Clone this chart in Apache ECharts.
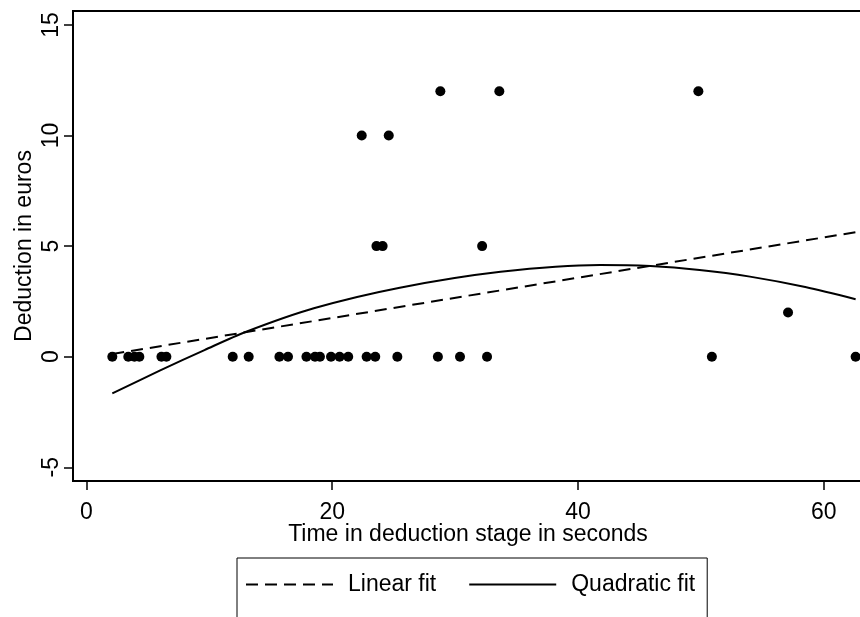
<!DOCTYPE html>
<html>
<head>
<meta charset="utf-8">
<script src="https://cdn.jsdelivr.net/npm/echarts@6/dist/echarts.min.js"></script>
<style>
    html, body { margin: 0; padding: 0; background: #fff; }
    #chart { width: 860px; height: 617px; }
</style>
</head>
<body>
<div id="chart"></div>
<script>
// observed points: time in seconds / deduction in euros
const timeSec = [
    2.1, 3.4, 3.9, 4.3, 6.1, 6.5, 11.9, 13.2, 15.7, 16.4,
    17.9, 18.6, 19.0, 19.9, 20.6, 21.3, 22.8, 23.5, 25.3,
    28.6, 30.4, 32.6, 50.9, 62.6,
    22.4, 24.6, 23.6, 24.1, 32.2, 28.8, 33.6, 49.8, 57.1,
]
const deduction = [
    0, 0, 0, 0, 0, 0, 0, 0, 0, 0,
    0, 0, 0, 0, 0, 0, 0, 0, 0,
    0, 0, 0, 0, 0,
    10, 10, 5, 5, 5, 12, 12, 12, 2,
]

// fitted lines
const linearX = [2.1, 62.6]
const linearY = [0.12, 5.63]
const quadX = [2.1, 6, 9.6, 13.0, 18.5, 25.5, 33.7, 41.8, 45.9, 49.9, 54.0, 58.5, 62.6]
const quadY = [-1.66, -0.62, 0.30, 1.13, 2.19, 3.12, 3.84, 4.15, 4.10, 3.92, 3.62, 3.15, 2.60]

const xTicks = [0, 20, 40, 60]
const yTicks = [-5, 0, 5, 10, 15]

const pairs = (xs, ys) => xs.map((x, i) => [x, ys[i]])

const font = '"Liberation Sans", Arial, sans-serif'
const chart = echarts.init(document.getElementById('chart'))

chart.setOption({
    animation: false,
    backgroundColor: '#fff',
    grid: {
        left: 73,
        top: 11,
        right: -3,
        bottom: 136,
        outerBoundsMode: 'none',
        containLabel: false,
        show: true,
        borderColor: '#000',
        borderWidth: 2,
        backgroundColor: 'transparent',
    },
    legend: {
        data: ['Linear fit', 'Quadratic fit'],
        left: 237,
        top: 558,
        orient: 'horizontal',
        itemWidth: 87,
        itemHeight: 14,
        itemGap: 32,
        padding: [15, 12, 40, 8],
        borderColor: '#000',
        borderWidth: 1,
        itemStyle: { color: 'transparent', borderWidth: 0 },
        textStyle: {
            fontFamily: font,
            fontSize: 23,
            color: '#000',
            padding: [0, 0, 0, 10],
        },
    },
    xAxis: {
        type: 'value',
        min: -1.1,
        max: 63.2,
        name: 'Time in deduction stage in seconds',
        nameLocation: 'middle',
        nameGap: 42,
        nameMoveOverlap: false,
        nameTextStyle: { fontFamily: font, fontSize: 23, color: '#000' },
        axisLine: { show: true, onZero: false, lineStyle: { color: '#000', width: 2 } },
        axisTick: { show: true, length: 9, customValues: xTicks, lineStyle: { color: '#000', width: 1.5 } },
        axisLabel: { customValues: xTicks, fontFamily: font, fontSize: 23, color: '#000', margin: 20 },
        splitLine: { show: false },
    },
    yAxis: {
        type: 'value',
        min: -5.62,
        max: 15.63,
        name: 'Deduction in euros',
        nameLocation: 'middle',
        nameGap: 37,
        nameMoveOverlap: false,
        nameTextStyle: { fontFamily: font, fontSize: 23, color: '#000' },
        axisLine: { show: true, onZero: false, lineStyle: { color: '#000', width: 2 } },
        axisTick: { show: true, length: 9, customValues: yTicks, lineStyle: { color: '#000', width: 1.5 } },
        axisLabel: { customValues: yTicks, rotate: 90, fontFamily: font, fontSize: 23, color: '#000', margin: 10 },
        splitLine: { show: false },
    },
    series: [
        {
            name: 'Deduction',
            type: 'scatter',
            data: pairs(timeSec, deduction),
            symbol: 'circle',
            symbolSize: 10,
            itemStyle: { color: '#000', opacity: 1 },
            z: 3,
        },
        {
            name: 'Linear fit',
            type: 'line',
            data: pairs(linearX, linearY),
            symbol: 'none',
            lineStyle: { color: '#000', width: 2, type: [12, 7] },
            itemStyle: { color: '#000' },
        },
        {
            name: 'Quadratic fit',
            type: 'line',
            data: pairs(quadX, quadY),
            symbol: 'none',
            smooth: 0.3,
            lineStyle: { color: '#000', width: 2 },
            itemStyle: { color: '#000' },
        },
    ],
})
</script>
</body>
</html>
